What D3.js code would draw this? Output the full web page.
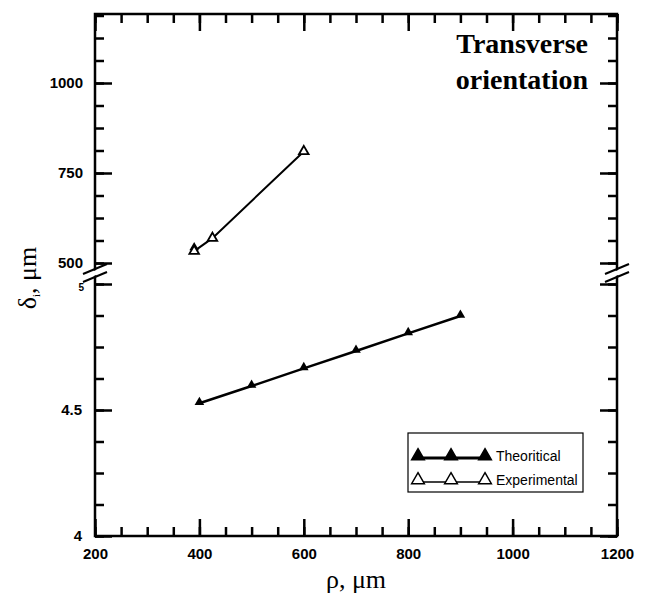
<!DOCTYPE html>
<html>
<head>
<meta charset="utf-8">
<script src="https://cdn.jsdelivr.net/npm/d3@7"></script>
<style>
  html, body { margin: 0; padding: 0; background: #fff; }
  svg { display: block; }
</style>
</head>
<body>
<svg id="chart" width="646" height="596"></svg>
<script>
// ---------- data ----------
const theoRho   = [400, 500, 600, 700, 800, 900];
const theoDelta = [4.527, 4.595, 4.665, 4.734, 4.804, 4.873];   // lower panel
const theoUpperRho   = [390];
const theoUpperDelta = [543];                                   // upper panel
const expRho   = [390, 425, 600];
const expDelta = [533, 569, 810];                               // upper panel

const xMajorTicks = [200, 400, 600, 800, 1000, 1200];
const xMinorTicks = d3.range(200, 1201, 50);
const upperMajorTicks = [500, 750, 1000];
const upperMinorTicks = d3.range(500, 1190, 62.5);
const lowerMajorTicks = [4, 4.5, 5];
const lowerMinorTicks = d3.range(4, 5.001, 0.125);
const upperTickLabels = ["500", "750", "1000"];
const lowerTickLabels = ["4", "4.5", "5"];

const seriesNames = ["Theoritical", "Experimental"];
const titleLines = ["Transverse", "orientation"];

// ---------- layout ----------
const L = 95, R = 617, T = 14, B = 536;
const svg = d3.select("#chart");

const x = d3.scaleLinear().domain([200, 1200]).range([L, R]);
const yUp = d3.scaleLinear().domain([500, 1000]).range([263, 83]);
const yLo = d3.scaleLinear().domain([4, 5]).range([B, 284]);

const majorLen = 17, minorLen = 9;
const tickFont = "'Liberation Sans', Arial, sans-serif";

function styleAxis(g) {
  g.select(".domain").remove();
  g.selectAll(".tick line").attr("stroke", "#000").attr("stroke-width", 2.5);
  g.selectAll(".tick text")
    .attr("fill", "#000")
    .style("font-family", tickFont)
    .style("font-weight", "bold")
    .style("font-size", "15px");
}

// bottom axis (ticks inward)
svg.append("g").attr("transform", `translate(0,${B})`)
  .call(d3.axisBottom(x).tickValues(xMinorTicks).tickSize(-minorLen).tickFormat(""))
  .call(styleAxis);
svg.append("g").attr("transform", `translate(0,${B})`)
  .call(d3.axisBottom(x).tickValues(xMajorTicks).tickSize(-majorLen).tickPadding(12).tickFormat(d3.format("d")))
  .call(styleAxis);
// top axis
svg.append("g").attr("transform", `translate(0,${T})`)
  .call(d3.axisTop(x).tickValues(xMinorTicks).tickSize(-minorLen).tickFormat(""))
  .call(styleAxis);
svg.append("g").attr("transform", `translate(0,${T})`)
  .call(d3.axisTop(x).tickValues(xMajorTicks).tickSize(-majorLen).tickFormat(""))
  .call(styleAxis);

// left axis upper
svg.append("g").attr("transform", `translate(${L},0)`)
  .call(d3.axisLeft(yUp).tickValues(upperMinorTicks).tickSize(-minorLen).tickFormat(""))
  .call(styleAxis);
svg.append("g").attr("transform", `translate(${L},0)`)
  .call(d3.axisLeft(yUp).tickValues(upperMajorTicks).tickSize(-majorLen).tickPadding(12)
    .tickFormat((d, i) => upperTickLabels[i]))
  .call(styleAxis);
// left axis lower
svg.append("g").attr("transform", `translate(${L},0)`)
  .call(d3.axisLeft(yLo).tickValues(lowerMinorTicks).tickSize(-minorLen).tickFormat(""))
  .call(styleAxis);
const loMaj = svg.append("g").attr("transform", `translate(${L},0)`)
  .call(d3.axisLeft(yLo).tickValues(lowerMajorTicks).tickSize(-majorLen).tickPadding(13)
    .tickFormat((d, i) => lowerTickLabels[i]))
  .call(styleAxis);
loMaj.selectAll(".tick text").filter(d => d === 5)
  .style("font-size", "10px").attr("dy", "0.6em").attr("x", -11);

// right axis
svg.append("g").attr("transform", `translate(${R},0)`)
  .call(d3.axisRight(yUp).tickValues(upperMinorTicks).tickSize(-minorLen).tickFormat(""))
  .call(styleAxis);
svg.append("g").attr("transform", `translate(${R},0)`)
  .call(d3.axisRight(yUp).tickValues(upperMajorTicks).tickSize(-majorLen).tickFormat(""))
  .call(styleAxis);
svg.append("g").attr("transform", `translate(${R},0)`)
  .call(d3.axisRight(yLo).tickValues(lowerMinorTicks).tickSize(-minorLen).tickFormat(""))
  .call(styleAxis);
svg.append("g").attr("transform", `translate(${R},0)`)
  .call(d3.axisRight(yLo).tickValues(lowerMajorTicks).tickSize(-majorLen).tickFormat(""))
  .call(styleAxis);

// frame
svg.append("rect").attr("x", L).attr("y", T).attr("width", R - L).attr("height", B - T)
  .attr("fill", "none").attr("stroke", "#000").attr("stroke-width", 2.5);

// axis breaks
function brk(cx) {
  const g = svg.append("g");
  g.append("polygon")
    .attr("points", `${cx-4},${272} ${cx+4},${269} ${cx+4},${274} ${cx-4},${277}`)
    .attr("fill", "#fff");
  g.append("line").attr("x1", cx - 12).attr("y1", 274).attr("x2", cx + 12).attr("y2", 264)
    .attr("stroke", "#000").attr("stroke-width", 2);
  g.append("line").attr("x1", cx - 12).attr("y1", 282).attr("x2", cx + 12).attr("y2", 272)
    .attr("stroke", "#000").attr("stroke-width", 2);
}
brk(L); brk(R);

// ---------- marks ----------
const tri = d3.symbol().type(d3.symbolTriangle).size(40);

const theoData = theoRho.map((r, i) => ({ r, d: theoDelta[i] }));
const expData = expRho.map((r, i) => ({ r, d: expDelta[i] }));
const theoUp = theoUpperRho.map((r, i) => ({ r, d: theoUpperDelta[i] }));

svg.append("path").datum(expData)
  .attr("d", d3.line().x(p => x(p.r)).y(p => yUp(p.d)))
  .attr("fill", "none").attr("stroke", "#000").attr("stroke-width", 2);
svg.append("path").datum(theoData)
  .attr("d", d3.line().x(p => x(p.r)).y(p => yLo(p.d)))
  .attr("fill", "none").attr("stroke", "#000").attr("stroke-width", 2.5);

svg.selectAll(".theoPt").data(theoData).enter().append("path")
  .attr("d", tri).attr("transform", p => `translate(${x(p.r)},${yLo(p.d) - 1})`)
  .attr("fill", "#000");
svg.selectAll(".theoUpPt").data(theoUp).enter().append("path")
  .attr("d", tri).attr("transform", p => `translate(${x(p.r)},${yUp(p.d)})`)
  .attr("fill", "#000");
svg.selectAll(".expPt").data(expData).enter().append("path")
  .attr("d", tri).attr("transform", p => `translate(${x(p.r)},${yUp(p.d)})`)
  .attr("fill", "#fff").attr("stroke", "#000").attr("stroke-width", 1.8);

// ---------- title ----------
const serif = "'Liberation Serif', 'Times New Roman', serif";
svg.append("text").attr("x", 588).attr("y", 53).attr("text-anchor", "end")
  .style("font-family", serif).style("font-weight", "bold").style("font-size", "28px")
  .text(titleLines[0]);
svg.append("text").attr("x", 588).attr("y", 89).attr("text-anchor", "end")
  .style("font-family", serif).style("font-weight", "bold").style("font-size", "28px")
  .text(titleLines[1]);

// ---------- axis titles ----------
svg.append("text").attr("x", 356).attr("y", 588).attr("text-anchor", "middle")
  .style("font-family", serif).style("font-size", "26px").text("ρ, μm");

const yt = svg.append("text").attr("transform", "translate(36,278) rotate(-90)")
  .attr("text-anchor", "middle").style("font-family", serif).style("font-size", "26px");
yt.append("tspan").text("δ");
yt.append("tspan").attr("dy", 4).style("font-size", "11px").text("i");
yt.append("tspan").attr("dy", -4).text(", μm");

// ---------- legend ----------
const lg = svg.append("g");
lg.append("rect").attr("x", 408).attr("y", 433).attr("width", 175).attr("height", 59)
  .attr("fill", "#fff").attr("stroke", "#000").attr("stroke-width", 1.2);
const legRows = [
  { name: seriesNames[0], y: 456, fill: "#000", w: 2.8 },
  { name: seriesNames[1], y: 480, fill: "#fff", w: 1.3 }
];
const legX = [418, 451, 485];
legRows.forEach(row => {
  lg.append("line").attr("x1", legX[0]).attr("x2", legX[2]).attr("y1", row.y + 2).attr("y2", row.y + 2)
    .attr("stroke", "#000").attr("stroke-width", row.w);
  legX.forEach(px => {
    lg.append("path").attr("d", d3.symbol().type(d3.symbolTriangle).size(70))
      .attr("transform", `translate(${px},${row.y})`)
      .attr("fill", row.fill).attr("stroke", "#000").attr("stroke-width", 1.5);
  });
  lg.append("text").attr("x", 496).attr("y", row.y + 5)
    .style("font-family", tickFont).style("font-size", "14px").text(row.name);
});
</script>
</body>
</html>
